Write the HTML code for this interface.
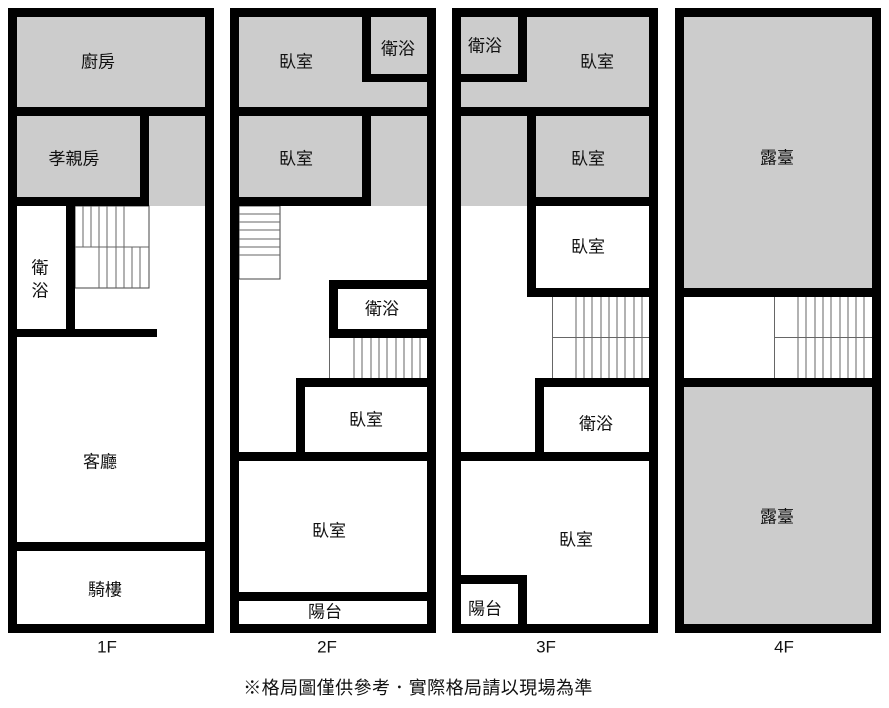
<!DOCTYPE html>
<html><head><meta charset="utf-8"><style>
html,body{margin:0;padding:0;background:#fff;}
svg{display:block}
text{font-family:"Liberation Sans","Noto Sans CJK TC",sans-serif;font-size:17px;fill:#111;text-anchor:middle;dominant-baseline:central;}
.st line{stroke:#666;stroke-width:1}
</style></head><body>
<svg width="889" height="708" viewBox="0 0 889 708" xmlns="http://www.w3.org/2000/svg">
<rect width="889" height="708" fill="#fff"/>
<!-- ===== 1F ===== -->
<rect x="17" y="17" width="188" height="189" fill="#ccc"/>
<g class="st">
<rect x="75" y="206" width="74" height="82" fill="none" stroke="#444" stroke-width="1"/>
<line x1="75" y1="247" x2="149" y2="247"/>
<line x1="83" y1="206" x2="83" y2="247"/><line x1="91" y1="206" x2="91" y2="247"/><line x1="99" y1="206" x2="99" y2="288"/><line x1="107" y1="206" x2="107" y2="288"/><line x1="116" y1="206" x2="116" y2="288"/><line x1="124" y1="206" x2="124" y2="288"/><line x1="132" y1="247" x2="132" y2="288"/><line x1="140" y1="247" x2="140" y2="288"/>
</g>
<g fill="#000">
<rect x="8" y="8" width="206" height="9"/><rect x="8" y="624" width="206" height="9"/>
<rect x="8" y="8" width="9" height="625"/><rect x="205" y="8" width="9" height="625"/>
<rect x="8" y="107" width="206" height="9"/>
<rect x="140" y="116" width="9" height="90"/><rect x="8" y="197" width="141" height="9"/>
<rect x="66" y="206" width="9" height="131"/><rect x="8" y="329" width="149" height="8"/>
<rect x="8" y="542" width="206" height="9"/>
</g>
<text x="98" y="62">廚房</text>
<text x="74" y="159">孝親房</text>
<text x="40" y="268">衛</text><text x="40" y="291">浴</text>
<text x="100" y="462">客廳</text>
<text x="105" y="590">騎樓</text>
<text x="107" y="647">1F</text>

<!-- ===== 2F ===== -->
<rect x="239" y="17" width="188" height="189" fill="#ccc"/>
<g class="st">
<rect x="239" y="206" width="41" height="73" fill="none" stroke="#444"/>
<line x1="239" y1="214" x2="280" y2="214"/><line x1="239" y1="222" x2="280" y2="222"/><line x1="239" y1="230" x2="280" y2="230"/><line x1="239" y1="239" x2="280" y2="239"/><line x1="239" y1="247" x2="280" y2="247"/><line x1="239" y1="255" x2="280" y2="255"/>
<line x1="329.5" y1="338" x2="329.5" y2="378" stroke="#444"/>
<line x1="354" y1="338" x2="354" y2="378"/><line x1="362" y1="338" x2="362" y2="378"/><line x1="371" y1="338" x2="371" y2="378"/><line x1="379" y1="338" x2="379" y2="378"/><line x1="387" y1="338" x2="387" y2="378"/><line x1="396" y1="338" x2="396" y2="378"/><line x1="404" y1="338" x2="404" y2="378"/><line x1="412" y1="338" x2="412" y2="378"/><line x1="420" y1="338" x2="420" y2="378"/>
</g>
<g fill="#000">
<rect x="230" y="8" width="206" height="9"/><rect x="230" y="624" width="206" height="9"/>
<rect x="230" y="8" width="9" height="625"/><rect x="427" y="8" width="9" height="625"/>
<rect x="362" y="17" width="9" height="65"/><rect x="362" y="74" width="65" height="8"/>
<rect x="230" y="107" width="206" height="9"/>
<rect x="362" y="116" width="9" height="90"/><rect x="230" y="197" width="141" height="9"/>
<rect x="329" y="280" width="9" height="58"/><rect x="329" y="280" width="98" height="9"/><rect x="329" y="329" width="98" height="9"/>
<rect x="296" y="378" width="9" height="80"/><rect x="296" y="378" width="131" height="9"/>
<rect x="230" y="452" width="206" height="9"/>
<rect x="230" y="592" width="206" height="9"/>
</g>
<text x="296" y="62">臥室</text>
<text x="398" y="49">衛浴</text>
<text x="296" y="159">臥室</text>
<text x="382" y="309">衛浴</text>
<text x="366" y="420">臥室</text>
<text x="329" y="531">臥室</text>
<text x="325" y="612">陽台</text>
<text x="327" y="647">2F</text>

<!-- ===== 3F ===== -->
<rect x="461" y="17" width="188" height="189" fill="#ccc"/>
<rect x="536" y="206" width="113" height="82" fill="#fff"/>
<g class="st">
<line x1="552.5" y1="297" x2="552.5" y2="378" stroke="#444"/>
<line x1="552" y1="337.5" x2="649" y2="337.5" stroke="#444"/>
<line x1="576" y1="297" x2="576" y2="378"/><line x1="584" y1="297" x2="584" y2="378"/><line x1="592" y1="297" x2="592" y2="378"/><line x1="601" y1="297" x2="601" y2="378"/><line x1="609" y1="297" x2="609" y2="378"/><line x1="617" y1="297" x2="617" y2="378"/><line x1="625" y1="297" x2="625" y2="378"/><line x1="634" y1="297" x2="634" y2="378"/><line x1="642" y1="297" x2="642" y2="378"/>
</g>
<g fill="#000">
<rect x="452" y="8" width="206" height="9"/><rect x="452" y="624" width="206" height="9"/>
<rect x="452" y="8" width="9" height="625"/><rect x="649" y="8" width="9" height="625"/>
<rect x="518" y="17" width="9" height="65"/><rect x="452" y="74" width="75" height="8"/>
<rect x="452" y="107" width="206" height="9"/>
<rect x="527" y="116" width="9" height="181"/><rect x="527" y="288" width="131" height="9"/>
<rect x="536" y="197" width="113" height="9"/>
<rect x="535" y="378" width="9" height="80"/><rect x="535" y="378" width="114" height="9"/>
<rect x="452" y="452" width="206" height="9"/>
<rect x="452" y="575" width="75" height="9"/><rect x="518" y="575" width="9" height="50"/>
</g>
<text x="485" y="46">衛浴</text>
<text x="597" y="62">臥室</text>
<text x="588" y="159">臥室</text>
<text x="588" y="247">臥室</text>
<text x="596" y="424">衛浴</text>
<text x="576" y="540">臥室</text>
<text x="485" y="609">陽台</text>
<text x="546" y="647">3F</text>

<!-- ===== 4F ===== -->
<rect x="684" y="17" width="188" height="271" fill="#ccc"/>
<rect x="684" y="387" width="188" height="237" fill="#ccc"/>
<g class="st">
<line x1="774.5" y1="297" x2="774.5" y2="378" stroke="#444"/>
<line x1="774" y1="337.5" x2="872" y2="337.5" stroke="#444"/>
<line x1="798" y1="297" x2="798" y2="378"/><line x1="806" y1="297" x2="806" y2="378"/><line x1="815" y1="297" x2="815" y2="378"/><line x1="823" y1="297" x2="823" y2="378"/><line x1="831" y1="297" x2="831" y2="378"/><line x1="840" y1="297" x2="840" y2="378"/><line x1="848" y1="297" x2="848" y2="378"/><line x1="856" y1="297" x2="856" y2="378"/><line x1="864" y1="297" x2="864" y2="378"/>
</g>
<g fill="#000">
<rect x="675" y="8" width="206" height="9"/><rect x="675" y="624" width="206" height="9"/>
<rect x="675" y="8" width="9" height="625"/><rect x="872" y="8" width="9" height="625"/>
<rect x="675" y="288" width="206" height="9"/>
<rect x="675" y="378" width="206" height="9"/>
</g>
<text x="777" y="158">露臺</text>
<text x="777" y="517">露臺</text>
<text x="784" y="647">4F</text>

<text x="418" y="688" style="font-size:18px;letter-spacing:0.4px">※格局圖僅供參考．實際格局請以現場為準</text>
</svg>
</body></html>
